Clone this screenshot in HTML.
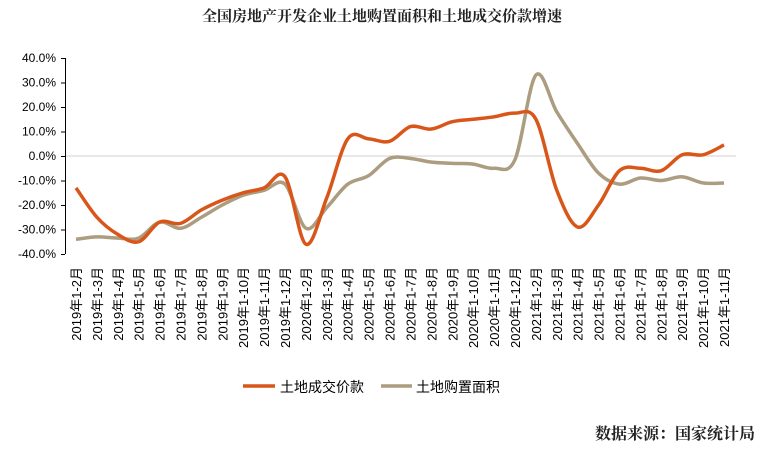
<!DOCTYPE html>
<html><head><meta charset="utf-8"><style>
body{margin:0;background:#fff;width:765px;height:452px;overflow:hidden}
svg{display:block}
</style></head><body>
<svg id="s" width="765" height="452" xmlns="http://www.w3.org/2000/svg" font-family="Liberation Sans, Noto Sans CJK SC, sans-serif">
<text x="382" y="21" text-anchor="middle" font-family="Liberation Serif, Noto Serif CJK SC, serif" font-weight="bold" font-size="15" fill="#222">全国房地产开发企业土地购置面积和土地成交价款增速</text>
<line x1="65" y1="156" x2="736" y2="156" stroke="#d0d0d0" stroke-width="1"/>
<line x1="65.5" y1="58" x2="65.5" y2="254" stroke="#000" stroke-width="1"/>
<g id="yt" font-size="12" fill="#000" text-anchor="end"></g>
<g id="xt" font-size="13" fill="#000"></g>
<path id="g" fill="none" stroke="#ac9c80" stroke-width="3.5" stroke-linejoin="round"/>
<path id="o" fill="none" stroke="#d9561a" stroke-width="3.5" stroke-linejoin="round"/>
<line x1="243" y1="386" x2="275" y2="386" stroke="#d9561a" stroke-width="3.5"/>
<text x="280" y="392" font-size="14" fill="#000">土地成交价款</text>
<line x1="381" y1="386" x2="412" y2="386" stroke="#ac9c80" stroke-width="3.5"/>
<text x="416" y="392" font-size="14" fill="#000">土地购置面积</text>
<text x="755" y="439" text-anchor="end" font-family="Liberation Serif, Noto Serif CJK SC, serif" font-weight="bold" font-size="16" fill="#222">数据来源：国家统计局</text>
</svg>
<script>
var NS="http://www.w3.org/2000/svg";
function Y(v){return 156-v*2.45;}
var yt=document.getElementById('yt');
for(var v=40;v>=-40;v-=10){
 var t=document.createElementNS(NS,'text');t.setAttribute('x',56);t.setAttribute('y',Y(v)+4);
 t.textContent=(v<0?'-':'')+Math.abs(v)+'.0%';yt.appendChild(t);
 var l=document.createElementNS(NS,'line');l.setAttribute('x1',61);l.setAttribute('x2',65);l.setAttribute('y1',Y(v)+.5);l.setAttribute('y2',Y(v)+.5);l.setAttribute('stroke','#000');yt.appendChild(l);
}
var labs=[];
for(var m=2;m<=12;m++)labs.push('2019年1-'+m+'月');
for(var m=2;m<=12;m++)labs.push('2020年1-'+m+'月');
for(var m=2;m<=11;m++)labs.push('2021年1-'+m+'月');
function X(i){return 76+i*(724-76)/31;}
var xt=document.getElementById('xt');
labs.forEach(function(s,i){
 var t=document.createElementNS(NS,'text');
 t.setAttribute('transform','translate('+(X(i)+5)+',267) rotate(-90)');
 t.setAttribute('text-anchor','end');t.textContent=s;xt.appendChild(t);
});
var o=[-13,-25,-32,-35,-27,-27.5,-22,-18,-15,-13,-8.5,-36,-17,7,7,6,12,11,14,15,16,17.5,15,-14,-29,-20,-6,-5,-6,0.5,0.5,4.5];
var g=[-34,-33,-33.5,-33.5,-27,-29.5,-25,-20,-16,-14,-11.5,-29.5,-21,-11.5,-8,-1,-1,-2.5,-3,-3.3,-5,-1.5,33,18,5,-7,-11.5,-9,-10,-8.5,-11,-11];
function path(d){
 var p=d.map(function(v,i){return [X(i),Y(v)];});
 var s='M'+p[0][0]+','+p[0][1];
 for(var i=0;i<p.length-1;i++){
  var p0=p[i-1]||p[i],p1=p[i],p2=p[i+1],p3=p[i+2]||p2;
  var c1=[p1[0]+(p2[0]-p0[0])/6,p1[1]+(p2[1]-p0[1])/6];
  var c2=[p2[0]-(p3[0]-p1[0])/6,p2[1]-(p3[1]-p1[1])/6];
  s+=' C'+c1.join(',')+' '+c2.join(',')+' '+p2.join(',');
 }
 return s;
}
document.getElementById('o').setAttribute('d',path(o));
document.getElementById('g').setAttribute('d',path(g));
</script>
</body></html>
